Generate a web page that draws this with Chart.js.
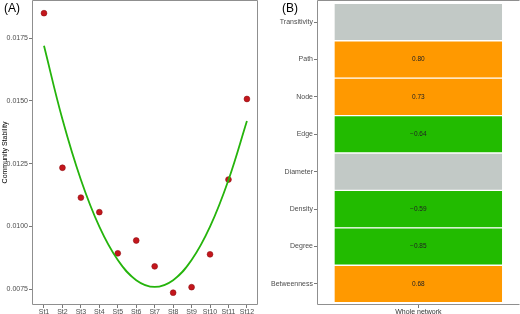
<!DOCTYPE html>
<html>
<head>
<meta charset="utf-8">
<script src="https://cdn.jsdelivr.net/npm/chart.js@4.4.1/dist/chart.umd.min.js"></script>
<style>
  body { margin: 0; background: #fff; }
  #wrap { position: relative; width: 520px; height: 314px; overflow: hidden; }
  canvas { position: absolute; top: 0; }
</style>
</head>
<body>
<div id="wrap">
  <canvas id="stabilityChart" width="260" height="314" style="left:0"></canvas>
  <canvas id="metricChart" width="260" height="314" style="left:260px"></canvas>
</div>
<script>
// Panel A data
const stations = ['St1', 'St2', 'St3', 'St4', 'St5', 'St6', 'St7', 'St8', 'St9', 'St10', 'St11', 'St12'];
const stability = [0.01850, 0.01234, 0.01115, 0.01057, 0.00893, 0.00944, 0.00841, 0.00736, 0.00758, 0.00889, 0.01187, 0.01508];
// fitted curve, read at each station
const fitted = [0.01720, 0.01427, 0.01186, 0.00999, 0.00866, 0.00786, 0.00759, 0.00786, 0.00866, 0.00999, 0.01185, 0.01420];
const stabilityTicks = [0.0075, 0.0100, 0.0125, 0.0150, 0.0175];

// Panel B data
const metrics = ['Transitivity', 'Path', 'Node', 'Edge', 'Diameter', 'Density', 'Degree', 'Betweenness'];
const correlations = [null, 0.80, 0.73, -0.64, null, -0.59, -0.85, 0.68];
const columnLabel = 'Whole network';

Chart.defaults.font.family = "'Liberation Sans', Arial, sans-serif";
Chart.defaults.color = '#4d4d4d';

const tickGrid = { display: true, drawOnChartArea: false, offset: false, tickLength: 3, color: '#555', lineWidth: 0.8 };

// keep the plot box where the reference has it
function fixY(width) {
    return s => { s.width = width; s.paddingTop = 0; s.paddingBottom = 0; };
}
function fixX(height) {
    return s => { s.height = height; s.paddingLeft = 0; s.paddingRight = 0; };
}

// grey panel border + panel tag
function panelBox(tag, tagX, sides) {
    return {
        id: 'panelBox' + tag,
        afterDraw(chart) {
            const { ctx, chartArea: a } = chart;
            ctx.save();
            ctx.strokeStyle = '#8f8f8f';
            ctx.lineWidth = 1;
            ctx.beginPath();
            const l = Math.round(a.left) + 0.5, r = Math.round(a.right) - 0.5;
            const t = Math.round(a.top) + 0.5, b = Math.round(a.bottom) - 0.5;
            if (sides.includes('t')) { ctx.moveTo(l, t); ctx.lineTo(r, t); }
            if (sides.includes('r')) { ctx.moveTo(r, t); ctx.lineTo(r, b); }
            if (sides.includes('b')) { ctx.moveTo(l, b); ctx.lineTo(r, b); }
            if (sides.includes('l')) { ctx.moveTo(l, t); ctx.lineTo(l, b); }
            ctx.stroke();
            ctx.fillStyle = '#000';
            ctx.font = "12px 'Liberation Sans', Arial, sans-serif";
            ctx.textBaseline = 'middle';
            ctx.textAlign = 'left';
            ctx.fillText(tag, tagX, 9);
            ctx.restore();
        }
    };
}

new Chart(document.getElementById('stabilityChart'), {
    type: 'scatter',
    data: {
        datasets: [
            {
                label: 'Observed',
                data: stability.map((v, i) => ({ x: i + 1, y: v })),
                backgroundColor: '#c4161c',
                borderColor: '#8e1014',
                borderWidth: 0.6,
                pointRadius: 2.9,
                order: 2
            },
            {
                type: 'line',
                label: 'Fit',
                data: fitted.map((v, i) => ({ x: i + 1, y: v })),
                borderColor: '#25b40c',
                borderWidth: 1.8,
                pointRadius: 0,
                fill: false,
                tension: 0.4,
                order: 1
            }
        ]
    },
    options: {
        responsive: false,
        animation: false,
        layout: { autoPadding: false, padding: { top: 0, right: 2, left: 0, bottom: 0 } },
        plugins: { legend: { display: false }, tooltip: { enabled: false } },
        scales: {
            x: {
                type: 'linear',
                min: 0.35,
                max: 12.6,
                afterBuildTicks: s => { s.ticks = stations.map((_, i) => ({ value: i + 1 })); },
                afterFit: fixX(9),
                ticks: { autoSkip: false, maxRotation: 0, padding: 0, font: { size: 7 },
                         callback: v => stations[v - 1] },
                grid: tickGrid,
                border: { display: false }
            },
            y: {
                min: 0.00687,
                max: 0.019025,
                afterBuildTicks: s => { s.ticks = stabilityTicks.map(v => ({ value: v })); },
                afterFit: fixY(32),
                ticks: { padding: 1, font: { size: 7 }, callback: v => v.toFixed(4) },
                title: { display: true, text: 'Community Stability', color: '#000',
                         font: { size: 7 }, padding: { top: 1, bottom: 0 } },
                grid: tickGrid,
                border: { display: false }
            }
        }
    },
    plugins: [panelBox('(A)', 4, 'trbl')]
});

const tileText = {
    id: 'tileText',
    afterDatasetsDraw(chart) {
        const { ctx } = chart;
        const meta = chart.getDatasetMeta(0);
        ctx.save();
        ctx.fillStyle = '#222';
        ctx.font = "6.5px 'Liberation Sans', Arial, sans-serif";
        ctx.textAlign = 'center';
        ctx.textBaseline = 'middle';
        meta.data.forEach((bar, i) => {
            const v = correlations[i];
            if (v === null) return;
            const p = bar.getProps(['x', 'y', 'base'], true);
            const txt = (v < 0 ? '\u2212' : '') + Math.abs(v).toFixed(2);
            ctx.fillText(txt, (p.x + p.base) / 2, p.y);
        });
        ctx.restore();
    }
};

new Chart(document.getElementById('metricChart'), {
    type: 'bar',
    data: {
        datasets: [{
            label: columnLabel,
            data: metrics.map((m, i) => ({ x: [0, 1], y: i })),
            backgroundColor: correlations.map(v => v === null ? '#c2c9c6' : (v > 0 ? '#ff9900' : '#22bb00')),
            borderColor: '#ffffff',
            borderWidth: 1,
            borderSkipped: false,
            barPercentage: 1,
            categoryPercentage: 1
        }]
    },
    options: {
        indexAxis: 'y',
        responsive: false,
        animation: false,
        layout: { autoPadding: false, padding: { top: 0, right: 0, left: 0, bottom: 0 } },
        plugins: { legend: { display: false }, tooltip: { enabled: false } },
        scales: {
            x: {
                type: 'linear',
                min: -0.1008,
                max: 1.1026,
                afterBuildTicks: s => { s.ticks = [{ value: 0.5 }]; },
                afterFit: fixX(9),
                ticks: { padding: 0, font: { size: 7 }, color: '#333', callback: () => columnLabel },
                grid: tickGrid,
                border: { display: false }
            },
            y: {
                type: 'linear',
                reverse: true,
                offset: false,
                min: -0.59,
                max: 7.563,
                afterBuildTicks: s => { s.ticks = metrics.map((_, i) => ({ value: i })); },
                afterFit: fixY(57),
                ticks: { autoSkip: false, padding: 1, font: { size: 7 }, callback: v => metrics[v] },
                grid: tickGrid,
                border: { display: false }
            }
        }
    },
    plugins: [panelBox('(B)', 22, 'tbl'), tileText]
});
</script>
</body>
</html>
